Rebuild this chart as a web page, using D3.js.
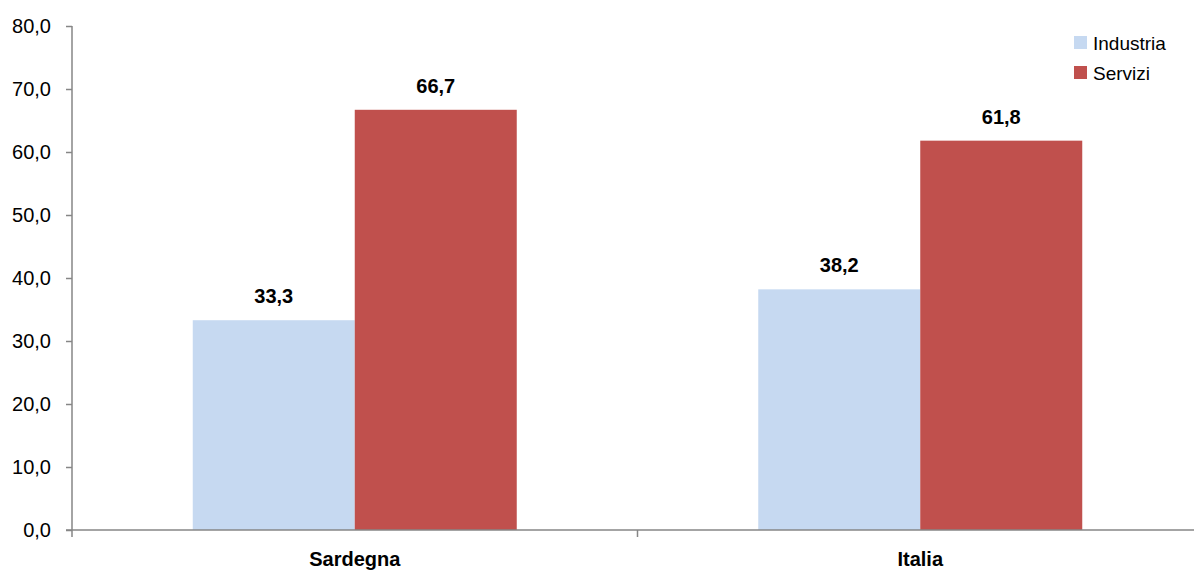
<!DOCTYPE html>
<html><head><meta charset="utf-8">
<script src="https://cdn.jsdelivr.net/npm/d3@7"></script>
<style>body{margin:0;background:#fff;overflow:hidden}svg{display:block;font-family:"Liberation Sans",Arial,sans-serif}</style>
</head><body>
<svg id="c" width="1194" height="570"></svg>
<script>
const categories = ["Sardegna", "Italia"];
const seriesNames = ["Industria", "Servizi"];
const industria = [33.3, 38.2];
const servizi = [66.7, 61.8];
const yTicks = [0, 10, 20, 30, 40, 50, 60, 70, 80];
const colors = ["#C6D9F1", "#C0504D"];

const svg = d3.select("#c");
const x0 = 72, x1 = 1203, yTop = 26, yBot = 530;
const fmt = v => v.toFixed(1).replace(".", ",");

const x = d3.scaleBand().domain(categories).range([x0, x1]).paddingInner(0).paddingOuter(0);
const y = d3.scaleLinear().domain([0, 80]).range([yBot, yTop]);
const groupW = 324;
const xs = d3.scaleBand().domain(seriesNames).range([0, groupW]);

const data = categories.map((c, i) => ({cat: c, vals: [industria[i], servizi[i]]}));

// bars
const g = svg.append("g");
data.forEach(d => {
  const gx = x(d.cat) + (x.bandwidth() - groupW) / 2;
  d.vals.forEach((v, j) => {
    g.append("rect")
      .attr("x", gx + xs(seriesNames[j]))
      .attr("y", y(v))
      .attr("width", xs.bandwidth())
      .attr("height", y(0) - y(v))
      .attr("fill", colors[j]);
    g.append("text")
      .attr("x", gx + xs(seriesNames[j]) + xs.bandwidth() / 2)
      .attr("y", y(v) - 17)
      .attr("text-anchor", "middle")
      .attr("font-size", 20).attr("font-weight", "bold")
      .attr("fill", "#000")
      .text(fmt(v));
  });
});

// y axis
const ya = svg.append("g").attr("transform", `translate(${x0},0)`)
  .call(d3.axisLeft(y).tickValues(yTicks).tickSize(6).tickPadding(15).tickFormat(fmt));
ya.select(".domain").attr("stroke", "#868686").attr("stroke-width", 1.5).attr("d", `M0,${yTop}V${yBot}`);
ya.selectAll(".tick line").attr("stroke", "#868686").attr("stroke-width", 1.5);
ya.selectAll(".tick text").attr("font-size", 20).attr("font-family", "Liberation Sans, Arial, sans-serif").attr("fill", "#000");

// x axis
const xa = svg.append("g").attr("transform", `translate(0,${yBot})`)
  .call(d3.axisBottom(x).tickSize(0).tickPadding(22));
xa.select(".domain").attr("stroke", "#868686").attr("stroke-width", 1.5).attr("d", `M${x0 - 6},0H1194`);
xa.selectAll(".tick text").attr("font-size", 20).attr("font-weight", "bold").attr("font-family", "Liberation Sans, Arial, sans-serif").attr("fill", "#000");
const bounds = [x0, x(categories[1])];
xa.selectAll(".sep").data(bounds).enter().append("line")
  .attr("x1", d => d).attr("x2", d => d).attr("y1", 0).attr("y2", 7)
  .attr("stroke", "#868686").attr("stroke-width", 1.5);

// legend
const lg = svg.append("g");
seriesNames.forEach((s, i) => {
  lg.append("rect").attr("x", 1074).attr("y", 36 + i * 30).attr("width", 13).attr("height", 13).attr("fill", colors[i]);
  lg.append("text").attr("x", 1093).attr("y", 50 + i * 30).attr("font-size", 19).attr("fill", "#000").text(s);
});
</script>
</body></html>
